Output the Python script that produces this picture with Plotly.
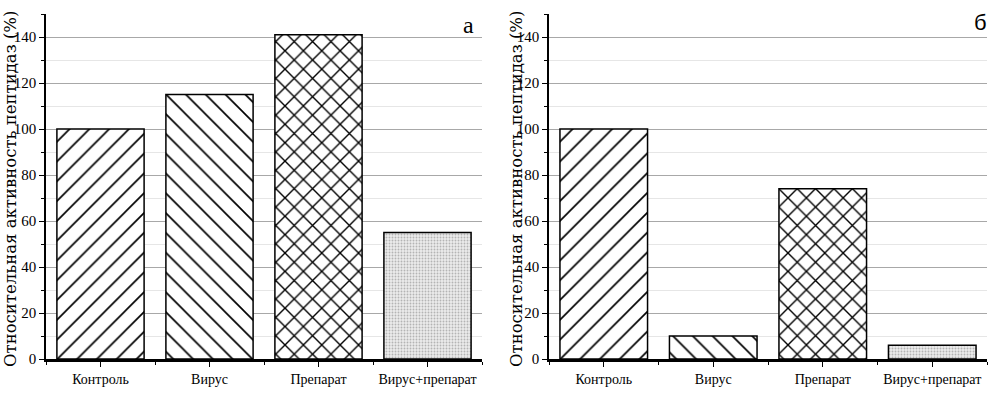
import plotly.graph_objects as go

categories = ["Контроль", "Вирус", "Препарат", "Вирус+препарат"]
values_a = [100, 115, 141, 55]
values_b = [100, 10, 74, 6]
y_ticks = [0, 20, 40, 60, 80, 100, 120, 140]
panel_labels = ["а", "б"]
y_title = "Относительная активность пептидаз (%)"

shapes = ["/", "\\", "x", "."]
fg = ["black", "black", "black", "#b4b4b4"]
bg = ["white", "white", "white", "#ececec"]
sizes = [14, 14, 13, 3]
solid = [0.12, 0.12, 0.2, 0.3]

FONT = "Liberation Serif"
fig = go.Figure()
xs = list(range(len(categories)))
for vals, xa, ya in [(values_a, "x", "y"), (values_b, "x2", "y2")]:
    for i in range(len(categories)):
        fig.add_trace(go.Bar(
            x=[xs[i]], y=[vals[i]], xaxis=xa, yaxis=ya, width=0.8,
            marker=dict(color=bg[i], line=dict(color="black", width=1.5),
                        pattern=dict(shape=shapes[i], fgcolor=fg[i], bgcolor=bg[i],
                                     size=sizes[i], solidity=solid[i], fillmode="replace")),
            showlegend=False, hoverinfo="skip"))

W = 992
def xaxis(dom, anchor):
    return dict(domain=dom, anchor=anchor, range=[-0.5, 3.5], tickmode="array",
                tickvals=xs, ticktext=categories, ticks="outside", ticklen=5,
                tickcolor="black", showline=True, linecolor="black", linewidth=2.5,
                showgrid=False, zeroline=False,
                tickfont=dict(family=FONT, size=14, color="black"),
                minor=dict(tickmode="array", tickvals=[-0.5, 0.5, 1.5, 2.5, 3.5],
                           ticks="outside", ticklen=3, tickcolor="black", showgrid=False))

def yaxis(anchor):
    return dict(anchor=anchor, domain=[0, 1], range=[0, 150], tickmode="array",
                tickvals=y_ticks, ticks="outside", ticklen=5, tickcolor="black",
                showline=True, linecolor="black", linewidth=1.5,
                showgrid=True, gridcolor="#a8a8a8", gridwidth=1, zeroline=False,
                tickfont=dict(family=FONT, size=15, color="black"),
                minor=dict(dtick=10, tick0=0, ticks="outside", ticklen=3, tickcolor="black",
                           showgrid=True, gridcolor="#e6e6e6", gridwidth=1))

fig.update_layout(
    width=W, height=396, margin=dict(l=0, r=0, t=14, b=37),
    paper_bgcolor="white", plot_bgcolor="white", barmode="overlay",
    xaxis=xaxis([46 / W, 482 / W], "y"),
    xaxis2=xaxis([549 / W, 987 / W], "y2"),
    yaxis=yaxis("x"),
    yaxis2=yaxis("x2"),
)

PH = 396 - 51
annots = []
for xp in [10, 516]:
    annots.append(dict(text=y_title, xref="paper", yref="paper", x=xp / W,
                       y=(396 - 189 - 37) / PH,
                       textangle=-90, showarrow=False,
                       font=dict(family="DejaVu Serif", size=16.5, color="black"),
                       xanchor="center", yanchor="middle"))
annots.append(dict(text=panel_labels[0], xref="paper", yref="paper", x=476 / W,
                   y=(396 - 25 - 37) / PH, showarrow=False,
                   font=dict(family=FONT, size=24, color="black"),
                   xanchor="right", yanchor="middle"))
annots.append(dict(text=panel_labels[1], xref="paper", yref="paper", x=989 / W,
                   y=(396 - 23 - 37) / PH, showarrow=False,
                   font=dict(family="Liberation Sans Narrow, Liberation Sans", size=22, color="black"),
                   xanchor="right", yanchor="middle"))
fig.update_layout(annotations=annots)

fig.write_html("out.html", config={"displayModeBar": False},
               post_script="document.body.style.margin='0';document.body.style.padding='0';")
